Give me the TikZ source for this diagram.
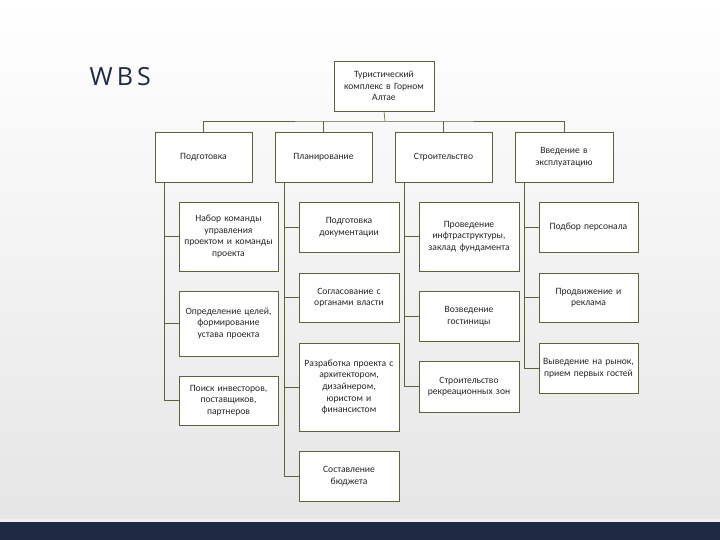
\documentclass[tikz,border=0pt]{standalone}
\usepackage{fontspec}
\setmainfont{Carlito}
\newfontfamily\titlefont{Open Sans}
\definecolor{bord}{HTML}{56663A}
\definecolor{navy}{HTML}{1E2A44}
\begin{document}
\begin{tikzpicture}[x=1pt,y=-1pt,
  box/.style={draw=bord,line width=0.6pt,fill=white,align=center,inner sep=1pt,
    font=\fontsize{9.6}{11.6}\selectfont,text=black!85},
  ln/.style={draw=bord,line width=0.6pt}]
\useasboundingbox (0,0) rectangle (720,540);
\shade[top color=white,bottom color=black!10] (0,0) rectangle (720,519);
\fill[black!6] (0,519) rectangle (720,522);
\fill[navy] (0,522) rectangle (720,540);
\node[anchor=west,font=\titlefont\fontsize{25}{25}\selectfont,text=navy] (wbs) at (86,77) {W\,B\,S};
\newcommand\bx[6]{\node[box,minimum width=#3-#2,minimum height=#5-#4,text width=#3-#2-2] (#1) at ({(#2+#3)/2},{(#4+#5)/2}) {#6};}
\bx{r}{334}{434}{61}{111}{Туристический\\комплекс в Горном\\Алтае}
\bx{a}{155}{252}{132}{182}{Подготовка}
\bx{b}{275}{372}{132}{182}{Планирование}
\bx{c}{395}{492}{132}{182}{Строительство}
\bx{d}{515}{613}{132}{182}{Введение в\\эксплуатацию}
\bx{a1}{179}{278}{202}{271}{Набор команды\\управления\\проектом и команды\\проекта}
\bx{a2}{179}{278}{291}{356}{Определение целей,\\формирование\\устава проекта}
\bx{a3}{179}{278}{376}{425}{Поиск инвесторов,\\поставщиков,\\партнеров}
\bx{b1}{299}{399}{202}{252}{Подготовка\\документации}
\bx{b2}{299}{399}{273}{322}{Согласование с\\органами власти}
\bx{b3}{299}{399}{343}{431}{Разработка проекта с\\архитектором,\\дизайнером,\\юристом и\\финансистом}
\bx{b4}{299}{399}{451}{501}{Составление\\бюджета}
\bx{c1}{419}{519}{202}{271}{Проведение\\инфтраструктуры,\\заклад фундамента}
\bx{c2}{419}{519}{291}{341}{Возведение\\гостиницы}
\bx{c3}{419}{519}{361}{412}{Строительство\\рекреационных зон}
\bx{d1}{539}{638}{202}{252}{Подбор персонала}
\bx{d2}{539}{638}{273}{322}{Продвижение и\\реклама}
\bx{d3}{539}{638}{343}{393}{Выведение на рынок,\\прием первых гостей}
\coordinate (bus) at (385,121);
\draw[ln] (r.south) -- (bus);
\draw[ln] (a.north) |- (bus) -| (d.north);
\draw[ln] (b.north) -- (b.north|-bus);
\draw[ln] (c.north) -- (c.north|-bus);
\foreach \p/\x/\kids in {a/164/{a1,a2,a3},b/284/{b1,b2,b3,b4},c/404/{c1,c2,c3},d/524/{d1,d2,d3}}{
  \foreach \k in \kids {\draw[ln] (\x,182) |- (\k.west);}
}
\end{tikzpicture}
\end{document}
